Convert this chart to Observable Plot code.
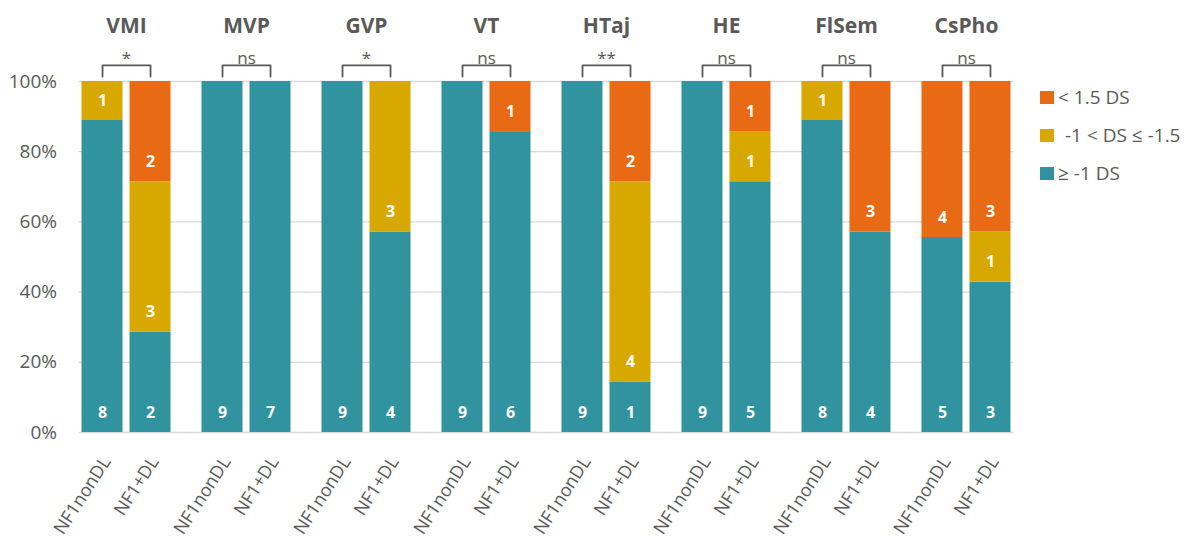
<!DOCTYPE html>
<html>
<head>
<meta charset="utf-8">
<script src="https://cdn.jsdelivr.net/npm/d3@7"></script>
<script src="https://cdn.jsdelivr.net/npm/@observablehq/plot@0.6"></script>
<style>
  body { margin: 0; background: #fff; font-family: "Open Sans", sans-serif; }
  #wrap { position: relative; width: 1190px; height: 540px; }
  #legend { position: absolute; left: 1040px; top: 78px; color: #595959; font-size: 19px; }
  .item { display: flex; align-items: center; height: 38px; white-space: nowrap; }
  .sw { width: 14px; height: 13px; margin-right: 4px; flex: none; }
</style>
</head>
<body>
<div id="wrap">
  <div id="chart"></div>
  <div id="legend"></div>
</div>
<script>
const groups = ["VMI", "MVP", "GVP", "VT", "HTaj", "HE", "FlSem", "CsPho"];
const cohorts = ["NF1nonDL", "NF1+DL"];
const categories = ["≥ -1 DS", "-1 < DS ≤ -1.5", "< 1.5 DS"];
const legendOrder = ["< 1.5 DS", "-1 < DS ≤ -1.5", "≥ -1 DS"];
const colors = ["#3193A0", "#D6A800", "#E86A14"];

// counts per group (NF1nonDL)
const nonDL_ge = [8, 9, 9, 9, 9, 9, 8, 5];
const nonDL_mid = [1, 0, 0, 0, 0, 0, 1, 0];
const nonDL_low = [0, 0, 0, 0, 0, 0, 0, 4];
// counts per group (NF1+DL)
const DL_ge = [2, 7, 4, 6, 1, 5, 4, 3];
const DL_mid = [3, 0, 3, 0, 4, 1, 0, 1];
const DL_low = [2, 0, 0, 1, 2, 1, 3, 3];

const significance = ["*", "ns", "*", "ns", "**", "ns", "ns", "ns"];
const yTicks = [0, 0.2, 0.4, 0.6, 0.8, 1];

const rows = [];
groups.forEach((g, i) => {
  [[cohorts[0], [nonDL_ge, nonDL_mid, nonDL_low]], [cohorts[1], [DL_ge, DL_mid, DL_low]]].forEach(([c, arrs]) => {
    arrs.forEach((arr, k) => rows.push({group: g, cohort: c, category: categories[k], count: arr[i]}));
  });
});
const shown = rows.filter(d => d.count > 0);

const gridRows = groups.flatMap(g => yTicks.map(t => ({group: g, y: t})));
const first = groups[0], last = groups[groups.length - 1];

const sigRows = groups.map((g, i) => ({group: g, sig: significance[i]}));
const legLow = 1.014, legHigh = 1.046;
const bracketPts = [];
groups.forEach(g => {
  bracketPts.push({group: g, cohort: cohorts[0], y: legLow});
  bracketPts.push({group: g, cohort: cohorts[0], y: legHigh});
  bracketPts.push({group: g, cohort: cohorts[1], y: legHigh});
  bracketPts.push({group: g, cohort: cohorts[1], y: legLow});
});

const gray = "#595959";
const gridStyle = {fx: "group", y: "y", stroke: "#d9d9d9", strokeWidth: 1.3};

const chart = Plot.plot({
  width: 1030,
  height: 540,
  marginLeft: 79,
  marginRight: 17,
  marginTop: 81,
  marginBottom: 108,
  style: {fontFamily: "'Open Sans', sans-serif", background: "white"},
  fx: {domain: groups, paddingInner: 0.2583, paddingOuter: 0.021, round: false, label: null},
  x: {domain: cohorts, paddingInner: 0.146, paddingOuter: 0, round: false, label: null},
  y: {domain: [0, 1], label: null},
  color: {domain: categories, range: colors},
  marks: [
    Plot.ruleY(gridRows.filter(d => d.group === first), {...gridStyle, insetLeft: -3, insetRight: -16}),
    Plot.ruleY(gridRows.filter(d => d.group !== first && d.group !== last), {...gridStyle, insetLeft: -16, insetRight: -16}),
    Plot.ruleY(gridRows.filter(d => d.group === last), {...gridStyle, insetLeft: -16, insetRight: -3}),
    Plot.barY(shown, Plot.stackY({fx: "group", x: "cohort", y: "count", fill: "category", order: categories, offset: "normalize"})),
    Plot.text(shown, Plot.stackY1({fx: "group", x: "cohort", y: "count", z: "category", order: categories, offset: "normalize",
      text: "count", dy: -20, fill: "white", fontWeight: "bold", fontSize: 16})),
    Plot.line(bracketPts, {fx: "group", x: "cohort", y: "y", z: "group", stroke: gray, strokeWidth: 1.8}),
    Plot.text(sigRows, {fx: "group", y: () => legHigh, text: "sig", lineAnchor: "bottom", dy: -1, fill: gray, fontSize: 17}),
    Plot.axisFx({anchor: "top", tickSize: 0, tickPadding: 49, fontSize: 21, fontWeight: "bold", fill: gray, label: null}),
    Plot.axisY({ticks: yTicks, tickFormat: d3.format(".0%"), tickSize: 0, tickPadding: 25, fontSize: 19, fill: gray, label: null}),
    Plot.axisX({tickRotate: -57, tickSize: 0, tickPadding: 26, dx: 4, fontSize: 18, fill: gray, label: null})
  ]
});
document.getElementById("chart").appendChild(chart);

const legend = document.getElementById("legend");
legendOrder.forEach(name => {
  const div = document.createElement("div");
  div.className = "item";
  const sw = document.createElement("span");
  sw.className = "sw";
  sw.style.background = colors[categories.indexOf(name)];
  const t = document.createElement("span");
  t.textContent = name;
  if (name === categories[1]) t.style.marginLeft = "7px";
  div.appendChild(sw);
  div.appendChild(t);
  legend.appendChild(div);
});
</script>
</body>
</html>
